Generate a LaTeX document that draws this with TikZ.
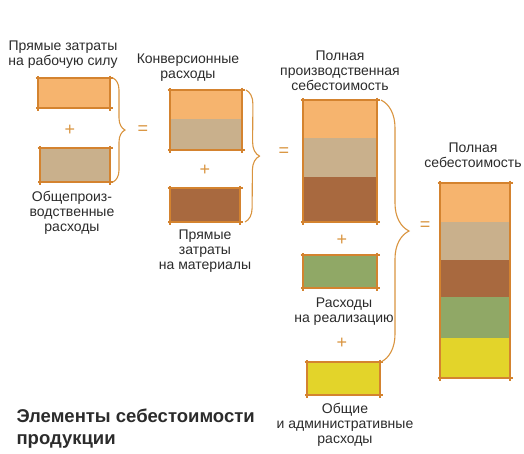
\documentclass[tikz,border=0pt]{standalone}
\usepackage{fontspec}
\setmainfont{Liberation Sans}
\usetikzlibrary{positioning, decorations.pathreplacing}
\definecolor{corange}{HTML}{F6B46E}
\definecolor{ctan}{HTML}{C9B08C}
\definecolor{cbrown}{HTML}{A8693F}
\definecolor{cgreen}{HTML}{90A866}
\definecolor{cyellow}{HTML}{E3D42A}
\definecolor{framecol}{HTML}{D4832F}
\definecolor{signcol}{HTML}{D9943F}
\definecolor{textcol}{HTML}{2B2B2B}
\tikzstyle{band} = [rectangle, minimum width=72pt, inner sep=0pt, outer sep=0pt]
\tikzstyle{boxframe} = [draw=framecol, line width=1.8pt, shorten <=-2.5pt, shorten >=-2.5pt]
\tikzstyle{txt} = [align=center, text=textcol, font=\fontsize{14}{15}\selectfont]
\tikzstyle{sign} = [text=signcol, font=\fontsize{18}{18}\selectfont]
\tikzset{curly/.style={draw=signcol, line width=1.1pt, decorate, decoration={brace, amplitude=#1}}}
% sketchy frame round a stack of bands: top band, bottom band
\newcommand{\sketchframe}[2]{
  \draw [boxframe] (#1.north west) -- (#1.north east);
  \draw [boxframe] (#1.north east) -- (#2.south east);
  \draw [boxframe] (#2.south east) -- (#2.south west);
  \draw [boxframe] (#2.south west) -- (#1.north west);
}

\begin{document}
\begin{tikzpicture}[x=1pt, y=-1pt]
\useasboundingbox (0,0) rectangle (524,453);

% first column
\node (b1) [band, fill=corange, minimum height=30pt] at (74,93) {};
\node (b2) [band, fill=ctan, minimum width=70pt, minimum height=34pt] at (75,165) {};
\sketchframe{b1}{b1}
\sketchframe{b2}{b2}
\node (t1) [txt] at (63,54.5) {Прямые затраты\\на рабочую силу};
\node (t2) [txt] at (72,213) {Общепроиз-\\водственные\\расходы};
\node (p1) [sign] at (70,130) {+};
\draw [curly=12] ([xshift=3pt]b1.north east) -- ([xshift=3pt]b2.south east);
\node (e1) [sign] at (143,130) {=};

% second column
\node (b3a) [band, fill=corange, minimum height=29pt] at (206,104.5) {};
\node (b3b) [band, fill=ctan, minimum height=31pt, below=0pt of b3a] {};
\node (b4) [band, fill=cbrown, minimum width=70pt, minimum height=34pt] at (205,205) {};
\sketchframe{b3a}{b3b}
\sketchframe{b4}{b4}
\node (t3) [txt] at (188,68) {Конверсионные\\расходы};
\node (t4) [txt] at (205,251) {Прямые\\затраты\\на материалы};
\node (p2) [sign] at (205,170) {+};
\draw [curly=14] ([xshift=4pt]b3a.north east) -- ([xshift=5pt]b4.south east);
\node (e2) [sign] at (284,152) {=};

% third column
\node (b5a) [band, fill=corange, minimum width=74pt, minimum height=38pt] at (340,119) {};
\node (b5b) [band, fill=ctan, minimum width=74pt, minimum height=39pt, below=0pt of b5a] {};
\node (b5c) [band, fill=cbrown, minimum width=74pt, minimum height=45pt, below=0pt of b5b] {};
\node (b6) [band, fill=cgreen, minimum width=74pt, minimum height=33pt] at (340,271.5) {};
\node (b7) [band, fill=cyellow, minimum width=73pt, minimum height=33pt] at (343.5,378.5) {};
\sketchframe{b5a}{b5c}
\sketchframe{b6}{b6}
\sketchframe{b7}{b7}
\node (t5) [txt] at (340,71) {Полная\\производственная\\себестоимость};
\node (t6) [txt] at (344,312) {Расходы\\на реализацию};
\node (t7) [txt] at (345,425) {Общие\\и административные\\расходы};
\node (p3) [sign] at (342,240) {+};
\node (p4) [sign] at (342,343) {+};
\draw [curly=28] ([xshift=4pt]b5a.north east) -- ([xshift=1pt]b7.north east);
\node (e3) [sign] at (425,226) {=};

% total
\node (b8a) [band, fill=corange, minimum width=70pt, minimum height=39pt] at (475,202.5) {};
\node (b8b) [band, fill=ctan, minimum width=70pt, minimum height=38pt, below=0pt of b8a] {};
\node (b8c) [band, fill=cbrown, minimum width=70pt, minimum height=37pt, below=0pt of b8b] {};
\node (b8d) [band, fill=cgreen, minimum width=70pt, minimum height=41pt, below=0pt of b8c] {};
\node (b8e) [band, fill=cyellow, minimum width=70pt, minimum height=40pt, below=0pt of b8d] {};
\sketchframe{b8a}{b8e}
\node (t8) [txt] at (473,155) {Полная\\себестоимость};

\node (title) [anchor=west, align=left, text=textcol, font=\fontsize{18.5}{22}\selectfont\bfseries] at (13,429) {Элементы себестоимости\\продукции};
\end{tikzpicture}
\end{document}
